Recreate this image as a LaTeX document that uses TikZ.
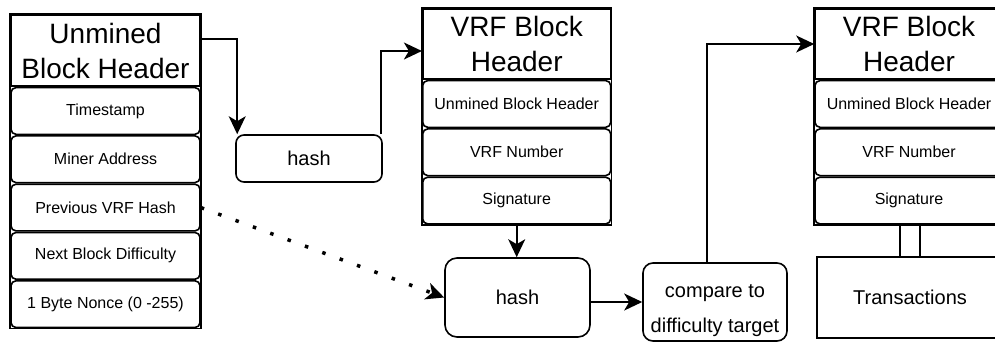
\documentclass[tikz,border=0pt]{standalone}
\usepackage{fontspec}
\setmainfont{Liberation Sans}
\usetikzlibrary{arrows.meta,positioning}

\begin{document}
\begin{tikzpicture}[x=1pt, y=-1pt, line width=1.6pt, node distance=0pt,
	blockhead/.style={rectangle, draw, minimum width=189pt, minimum height=70pt, inner sep=0pt, align=center, font=\fontsize{28}{35}\selectfont},
	field/.style={rectangle, draw, rounded corners=5pt, minimum width=189pt, minimum height=46.7pt, inner sep=0pt, font=\fontsize{16}{19}\selectfont},
	proc/.style={rectangle, draw, rounded corners=10pt, inner sep=0pt, align=center, font=\fontsize{20}{24}\selectfont},
	link/.style={-{Stealth[length=18pt, width=17pt, inset=5pt]}}]
				\useasboundingbox (0,0) rectangle (995,343);

				\node[blockhead, minimum height=71pt] (hdrA) at (105.5,50.5) {Unmined\\Block Header};
				\node[field, below=of hdrA] (rowA1) {Timestamp};
				\node[field, below=of rowA1] (rowA2) {Miner Address};
				\node[field, below=of rowA2] (rowA3) {Previous VRF Hash};
				\node[field, below=of rowA3] (rowA4) {Next Block Difficulty};
				\node[field, below=of rowA4] (rowA5) {1 Byte Nonce (0 -255)};
				\draw (hdrA.north west) rectangle (rowA5.south east);

				\node[proc, minimum width=146pt, minimum height=47pt, rounded corners=8pt] (hashA) at (309,158.5) {hash};

				\node[blockhead, minimum width=188pt] (hdrB) at (516.7,44) {VRF Block\\Header};
				\node[field, minimum width=188pt, below=of hdrB] (rowB1) {Unmined Block Header};
				\node[field, minimum width=188pt, below=of rowB1] (rowB2) {VRF Number};
				\node[field, minimum width=188pt, below=of rowB2] (rowB3) {Signature};
				\draw (hdrB.north west) rectangle (rowB3.south east);

				\node[proc, minimum width=145pt, minimum height=79pt, rounded corners=12pt] (hashB) at (517.5,297.5) {hash};
				\node[proc, minimum width=144pt, minimum height=78pt, text height=65.6pt, text depth=4.2pt, font=\fontsize{20}{35}\selectfont] (cmp) at (715,302) {compare to\\difficulty target};

				\node[blockhead, minimum width=188pt] (hdrC) at (909,44) {VRF Block\\Header};
				\node[field, minimum width=188pt, below=of hdrC] (rowC1) {Unmined Block Header};
				\node[field, minimum width=188pt, below=of rowC1] (rowC2) {VRF Number};
				\node[field, minimum width=188pt, below=of rowC2] (rowC3) {Signature};
				\draw (hdrC.north west) rectangle (rowC3.south east);
				\node[proc, rounded corners=0pt, minimum width=186pt, minimum height=81.5pt] (txC) at (910,297.5) {Transactions};

				\draw[link] ([yshift=11.5pt]hdrA.east) -| ([xshift=2pt]hashA.north west);
				\draw[link] ([xshift=-2pt]hashA.north east) |- ([yshift=-7pt]hdrB.west);
				\draw[link] (rowB3.south) -- (rowB3.south |- hashB.north);
				\draw[link, line width=3.5pt, dash pattern=on 3.5pt off 15pt] (rowA3.east) -- (hashB.west);
				\draw[link] (hashB.east |- cmp.west) -- (cmp.west);
				\draw[link] ([xshift=-8pt]cmp.north) |- (hdrC.west);
				\draw ([xshift=-9pt]rowC3.south) -- ([xshift=-9pt]rowC3.south |- txC.north);
				\draw ([xshift=11pt]rowC3.south) -- ([xshift=11pt]rowC3.south |- txC.north);
			\end{tikzpicture}
\end{document}
